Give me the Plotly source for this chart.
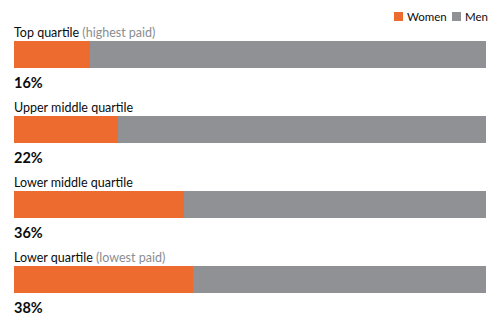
import plotly.graph_objects as go

categories = ["Top quartile", "Upper middle quartile", "Lower middle quartile", "Lower quartile"]
notes = ["(highest paid)", "", "", "(lowest paid)"]
women = [16, 22, 36, 38]
men = [100 - w for w in women]
series_names = ["Women", "Men"]
women_color = "#EE6B30"
men_color = "#8F9195"
font_family = "Lato"

pos = list(range(len(categories)))

fig = go.Figure()
fig.add_trace(go.Bar(y=pos, x=women, orientation="h", name=series_names[0],
                     marker=dict(color=women_color, line=dict(width=0)), width=0.36,
                     hoverinfo="skip"))
fig.add_trace(go.Bar(y=pos, x=men, orientation="h", name=series_names[1],
                     marker=dict(color=men_color, line=dict(width=0)), width=0.36,
                     hoverinfo="skip"))

annotations = []
for i, (c, n, w) in enumerate(zip(categories, notes, women)):
    txt = c + (f" <span style='color:#8A8D91'>{n}</span>" if n else "")
    annotations.append(dict(x=0, y=i - 0.287, xref="x", yref="y", text=txt,
                            showarrow=False, xanchor="left", yanchor="middle", xshift=-2,
                            font=dict(size=12.5, color="#0B0C0C", family=font_family)))
    annotations.append(dict(x=0, y=i + 0.367, xref="x", yref="y", text=f"<b>{w}%</b>",
                            showarrow=False, xanchor="left", yanchor="middle", xshift=-2,
                            font=dict(size=14.5, color="#0B0C0C", family=font_family)))

# manual compact legend (top right)
W, H, L = 502, 326, 14
PW = W - L - 16
def px(xp):
    return (xp - L) / PW
def py(yp):
    return (H - yp) / H

shapes = []
legend_items = [(series_names[0], women_color, 394, 405), (series_names[1], men_color, 452, 463)]
for name, col, sx, tx in legend_items:
    shapes.append(dict(type="rect", xref="paper", yref="paper",
                       x0=px(sx), x1=px(sx + 9), y0=py(12), y1=py(21),
                       fillcolor=col, line=dict(width=0)))
    annotations.append(dict(x=px(tx), y=py(16.5), xref="paper", yref="paper", text=name,
                            showarrow=False, xanchor="left", yanchor="middle",
                            font=dict(size=11.5, color="#0B0C0C", family=font_family)))

fig.update_layout(
    width=W, height=H,
    margin=dict(l=L, r=16, t=0, b=0),
    barmode="stack",
    plot_bgcolor="white", paper_bgcolor="white",
    xaxis=dict(range=[0, 100], visible=False, fixedrange=True),
    yaxis=dict(range=[3.62, -0.7267], visible=False, fixedrange=True),
    showlegend=False,
    shapes=shapes,
    annotations=annotations,
)

fig.write_html("out.html")
